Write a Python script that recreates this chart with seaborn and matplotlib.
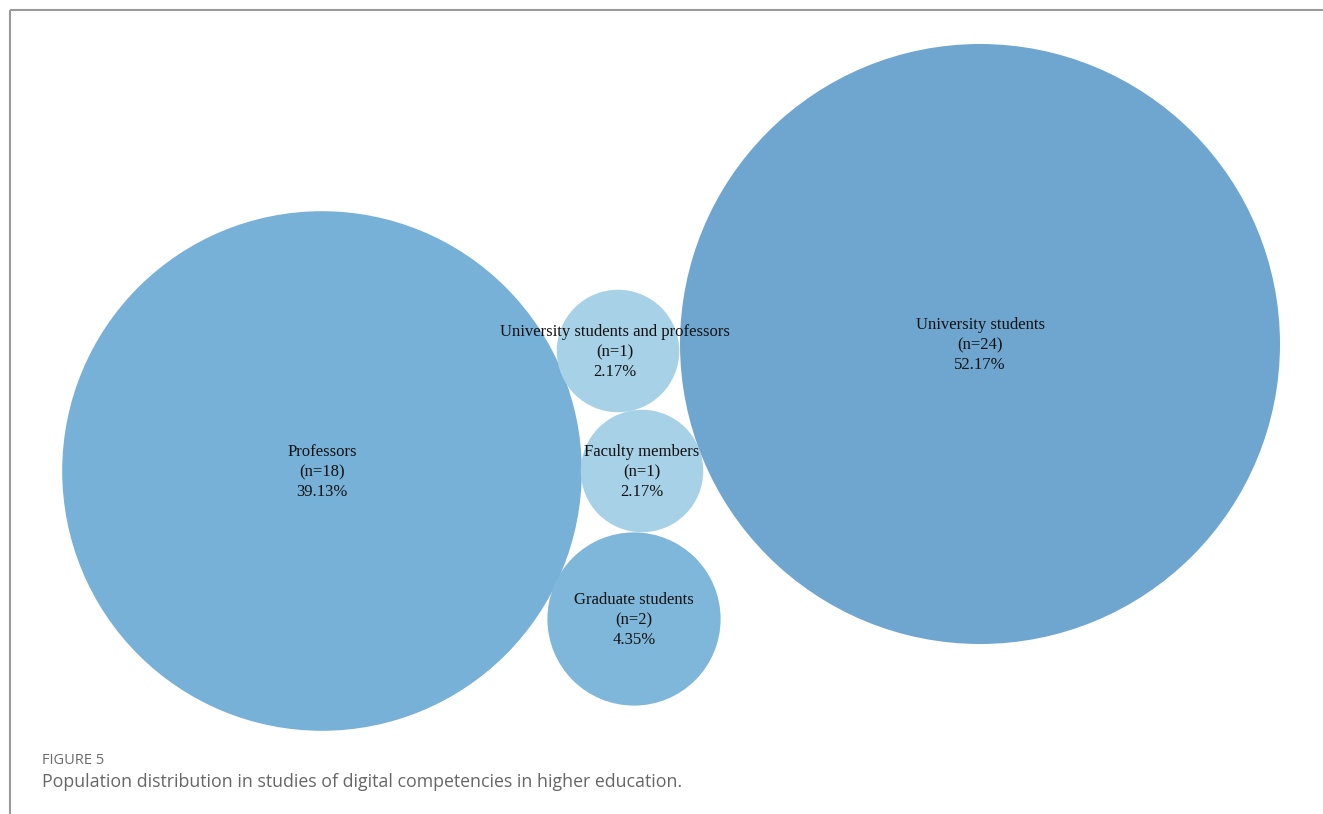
import matplotlib.pyplot as plt
import pandas as pd
import seaborn as sns

# data
groups = [
    "Professors",
    "University students and professors",
    "Faculty members",
    "Graduate students",
    "University students",
]
counts = [18, 1, 1, 2, 24]
percents = [39.13, 2.17, 2.17, 4.35, 52.17]
colors = ["#77b1d7", "#a6d1e7", "#a6d1e7", "#7fb7da", "#6ea6cf"]

# layout (pixel positions of bubble centres, packed by hand)
cx = [322, 618, 642, 634, 980]
cy = [471, 351, 471, 619, 344]

W, H, DPI = 1323, 814, 100
MAX_R = 300  # radius in px of the largest bubble


def plot_bubbles():
    sns.set_style("white")

    df = pd.DataFrame({"group": groups, "n": counts, "pct": percents, "x": cx, "y": cy})

    fig = plt.figure(figsize=(W / DPI, H / DPI), dpi=DPI)
    ax = fig.add_axes([0, 0, 1, 1])

    # marker area (pt^2) proportional to n -> area of bubble proportional to count
    k = (2 * MAX_R * 72 / DPI) ** 2 / max(counts)
    sns.scatterplot(
        data=df,
        x="x",
        y="y",
        hue="group",
        palette=colors,
        size="n",
        sizes=(k * min(counts), k * max(counts)),
        size_norm=(min(counts), max(counts)),
        linewidth=0,
        alpha=1,
        legend=False,
        ax=ax,
    )

    for _, row in df.iterrows():
        ax.text(
            row.x - (3 if row.n == 1 and row.y < 400 else 0),
            row.y + 1,
            f"{row.group}\n(n={row.n})\n{row.pct:.2f}%",
            ha="center",
            va="center",
            family="Liberation Serif",
            fontsize=12,
            linespacing=1.3,
            color="#111111",
        )

    ax.set_xlim(0, W)
    ax.set_ylim(H, 0)
    ax.axis("off")

    # frame lines of the figure panel
    ax.plot([10, 10], [10, H], color="#9a9a9a", lw=1.5, solid_capstyle="butt")
    ax.plot([10, W], [10, 10], color="#9a9a9a", lw=1.5, solid_capstyle="butt")

    ax.text(42, 760, "FIGURE 5", family="Open Sans", fontsize=10.5,
            color="#6a6a6a", va="center", ha="left")
    ax.text(42, 782, "Population distribution in studies of digital competencies in higher education.",
            family="Open Sans", fontsize=12.8, color="#666666", va="center", ha="left")

    plt.savefig("out.png", dpi=DPI)


if __name__ == "__main__":
    plot_bubbles()
